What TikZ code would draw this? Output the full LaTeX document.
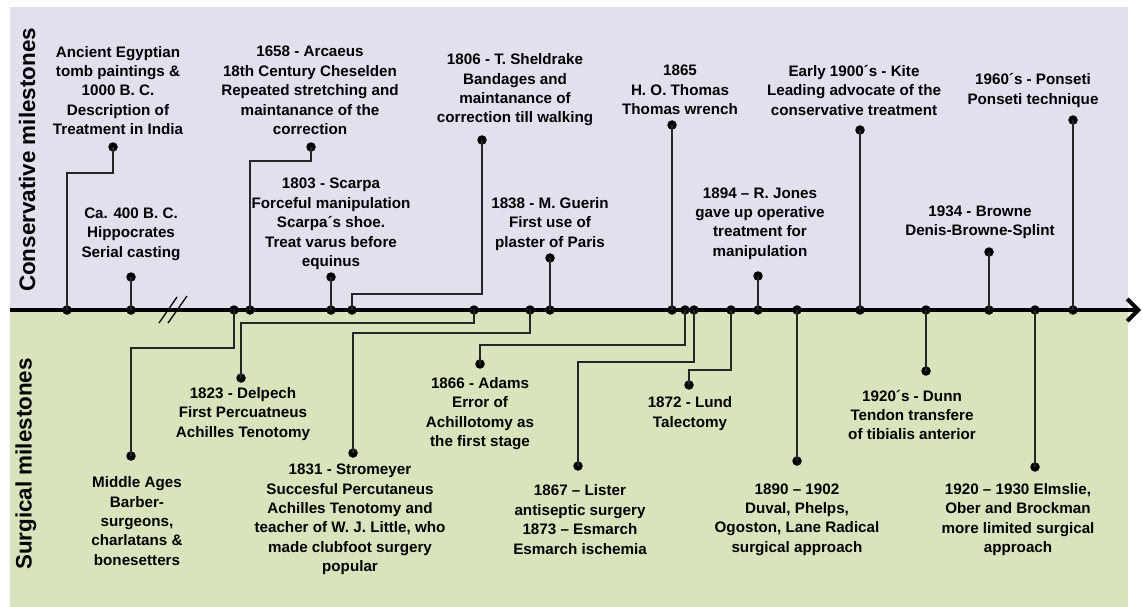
\documentclass[tikz,border=0pt]{standalone}
\usepackage{fontspec}
\setmainfont{Liberation Sans}
\usetikzlibrary{arrows.meta}
\definecolor{consLilac}{HTML}{E4DFEC}
\definecolor{surgGreen}{HTML}{D8E4BC}

\begin{document}
\begin{tikzpicture}[x=1pt, y=-1pt,
    every node/.style={font=\fontsize{15.2}{19.4}\selectfont\bfseries, align=center, inner sep=0pt},
    band/.style={font=\fontsize{22.4}{26}\selectfont\bfseries, rotate=90},
    dot/.style={circle, fill=black, minimum size=9.5pt, inner sep=0pt},
    link/.style={draw=black!85, line width=1.5pt},
    axis/.style={line width=4.5pt, -{Straight Barb[length=11pt, width=22pt, line width=4pt]}},
]
\useasboundingbox (0,0) rectangle (1142,607);
% Hintergrund: oben konservativ, unten operativ
\fill[consLilac] (10,7) rectangle (1128,310);
\fill[surgGreen] (10,310) rectangle (1128,607);
\node[band] (cons_label) at (27,160) {Conservative milestones};
\node[band] (surg_label) at (26,464) {Surgical milestones};
% Zeitachse
\coordinate (axis_start) at (10,310);
\coordinate (axis_end)   at (1141,310);
\draw[axis] (axis_start) -- (axis_end);
\draw[line width=1.3pt] (159,323) -- (177,297) (168,323) -- (187,296);
% Konservative Meilensteine (oben)
\node[dot] (egypt_ax)     at (67,310)  {};
\coordinate (egypt_bend)  at (113,173);
\node[dot] (egypt_dot)    at (113,147) {};
\node      (egypt)        at (118,90.5) {Ancient Egyptian\\tomb paintings \&\\1000 B. C.\\Description of\\Treatment in India};
\node[dot] (hippo_ax)     at (131,310) {};
\node[dot] (hippo_dot)    at (131,277) {};
\node      (hippo)        at (131,234) {Ca. 400 B. C.\\Hippocrates\\Serial casting};
\node[dot] (arcaeus_ax)   at (250,310) {};
\coordinate (arcaeus_bend) at (311,161);
\node[dot] (arcaeus_dot)  at (311,147) {};
\node      (arcaeus)      at (310,90.5) {1658 - Arcaeus\\18th Century Cheselden\\Repeated stretching and\\maintanance of the\\correction};
\node[dot] (scarpa_ax)    at (331,310) {};
\node[dot] (scarpa_dot)   at (331,277) {};
\node      (scarpa)       at (331,224) {1803 - Scarpa\\Forceful manipulation\\Scarpa´s shoe.\\Treat varus before\\equinus};
\node[dot] (sheldrake_ax) at (352,310) {};
\coordinate (sheldrake_bend) at (482,294);
\node[dot] (sheldrake_dot) at (482,140) {};
\node      (sheldrake)    at (515,90)  {1806 - T. Sheldrake\\Bandages and\\maintanance of\\correction till walking};
\node[dot] (guerin_ax)    at (550,310) {};
\node[dot] (guerin_dot)   at (550,258) {};
\node      (guerin)       at (550,224) {1838 - M. Guerin\\First use of\\plaster of Paris};
\node[dot] (thomas_ax)    at (672,310) {};
\node[dot] (thomas_dot)   at (672,125) {};
\node      (thomas)       at (680,90)  {1865\\H. O. Thomas\\Thomas wrench};
\node[dot] (jones_ax)     at (758,310) {};
\node[dot] (jones_dot)    at (758,276) {};
\node      (jones)        at (760,223.5) {1894 – R. Jones\\gave up operative\\treatment for\\manipulation};
\node[dot] (kite_ax)      at (860,310) {};
\node[dot] (kite_dot)     at (860,130) {};
\node      (kite)         at (854,90.5) {Early 1900´s - Kite\\Leading advocate of the\\conservative treatment};
\node[dot] (browne_ax)    at (989,310) {};
\node[dot] (browne_dot)   at (989,252) {};
\node      (browne)       at (980,222.5) {1934 - Browne\\Denis-Browne-Splint};
\node[dot] (ponseti_ax)   at (1073,310) {};
\node[dot] (ponseti_dot)  at (1073,120) {};
\node      (ponseti)      at (1033,90.5) {1960´s - Ponseti\\Ponseti technique};
% Operative Meilensteine (unten)
\node[dot] (middle_ax)    at (234,310) {};
\coordinate (middle_bend) at (131,348);
\node[dot] (middle_dot)   at (131,456) {};
\node      (middle)       at (137,521) {Middle Ages\\Barber-\\surgeons,\\charlatans \&\\bonesetters};
\node[dot] (delpech_ax)   at (474,310) {};
\coordinate (delpech_bend) at (241,323);
\node[dot] (delpech_dot)  at (241,378) {};
\node      (delpech)      at (243,414) {1823 - Delpech\\First Percuatneus\\Achilles Tenotomy};
\node[dot] (stromeyer_ax) at (530,310) {};
\coordinate (stromeyer_bend) at (353,333);
\node[dot] (stromeyer_dot) at (353,453) {};
\node      (stromeyer)    at (350,519.5) {1831 - Stromeyer\\Succesful Percutaneus\\Achilles Tenotomy and\\teacher of W. J. Little, who\\made clubfoot surgery\\popular};
\node[dot] (adams_ax)     at (685,310) {};
\coordinate (adams_bend)  at (480,345);
\node[dot] (adams_dot)    at (480,364) {};
\node      (adams)        at (480,413.5) {1866 - Adams\\Error of\\Achillotomy as\\the first stage};
\node[dot] (lister_ax)    at (694,310) {};
\coordinate (lister_bend) at (578,362);
\node[dot] (lister_dot)   at (578,466) {};
\node      (lister)       at (580,519.5) {1867 – Lister\\antiseptic surgery\\1873 – Esmarch\\Esmarch ischemia};
\node[dot] (lund_ax)      at (731,310) {};
\coordinate (lund_bend)   at (689,370);
\node[dot] (lund_dot)     at (689,385) {};
\node      (lund)         at (690,413.5) {1872 - Lund\\Talectomy};
\node[dot] (duval_ax)     at (797,310) {};
\node[dot] (duval_dot)    at (797,461) {};
\node      (duval)        at (797,519.5) {1890 – 1902\\Duval, Phelps,\\Ogoston, Lane Radical\\surgical approach};
\node[dot] (dunn_ax)      at (926,310) {};
\node[dot] (dunn_dot)     at (926,371) {};
\node      (dunn)         at (912,415) {1920´s - Dunn\\Tendon transfere\\of tibialis anterior};
\node[dot] (elmslie_ax)   at (1035,310) {};
\node[dot] (elmslie_dot)  at (1035,467) {};
\node      (elmslie)      at (1018,519.5) {1920 – 1930 Elmslie,\\Ober and Brockman\\more limited surgical\\approach};
% Verbindungen
\draw[link] (egypt_ax.center)     |- (egypt_bend)     -- (egypt_dot.center);
\draw[link] (hippo_ax.center)     -- (hippo_dot.center);
\draw[link] (arcaeus_ax.center)   |- (arcaeus_bend)   -- (arcaeus_dot.center);
\draw[link] (scarpa_ax.center)    -- (scarpa_dot.center);
\draw[link] (sheldrake_ax.center) |- (sheldrake_bend) -- (sheldrake_dot.center);
\draw[link] (guerin_ax.center)    -- (guerin_dot.center);
\draw[link] (thomas_ax.center)    -- (thomas_dot.center);
\draw[link] (jones_ax.center)     -- (jones_dot.center);
\draw[link] (kite_ax.center)      -- (kite_dot.center);
\draw[link] (browne_ax.center)    -- (browne_dot.center);
\draw[link] (ponseti_ax.center)   -- (ponseti_dot.center);
\draw[link] (middle_ax.center)    |- (middle_bend)    -- (middle_dot.center);
\draw[link] (delpech_ax.center)   |- (delpech_bend)   -- (delpech_dot.center);
\draw[link] (stromeyer_ax.center) |- (stromeyer_bend) -- (stromeyer_dot.center);
\draw[link] (adams_ax.center)     |- (adams_bend)     -- (adams_dot.center);
\draw[link] (lister_ax.center)    |- (lister_bend)    -- (lister_dot.center);
\draw[link] (lund_ax.center)      |- (lund_bend)      -- (lund_dot.center);
\draw[link] (duval_ax.center)     -- (duval_dot.center);
\draw[link] (dunn_ax.center)      -- (dunn_dot.center);
\draw[link] (elmslie_ax.center)   -- (elmslie_dot.center);
\end{tikzpicture}
\end{document}
